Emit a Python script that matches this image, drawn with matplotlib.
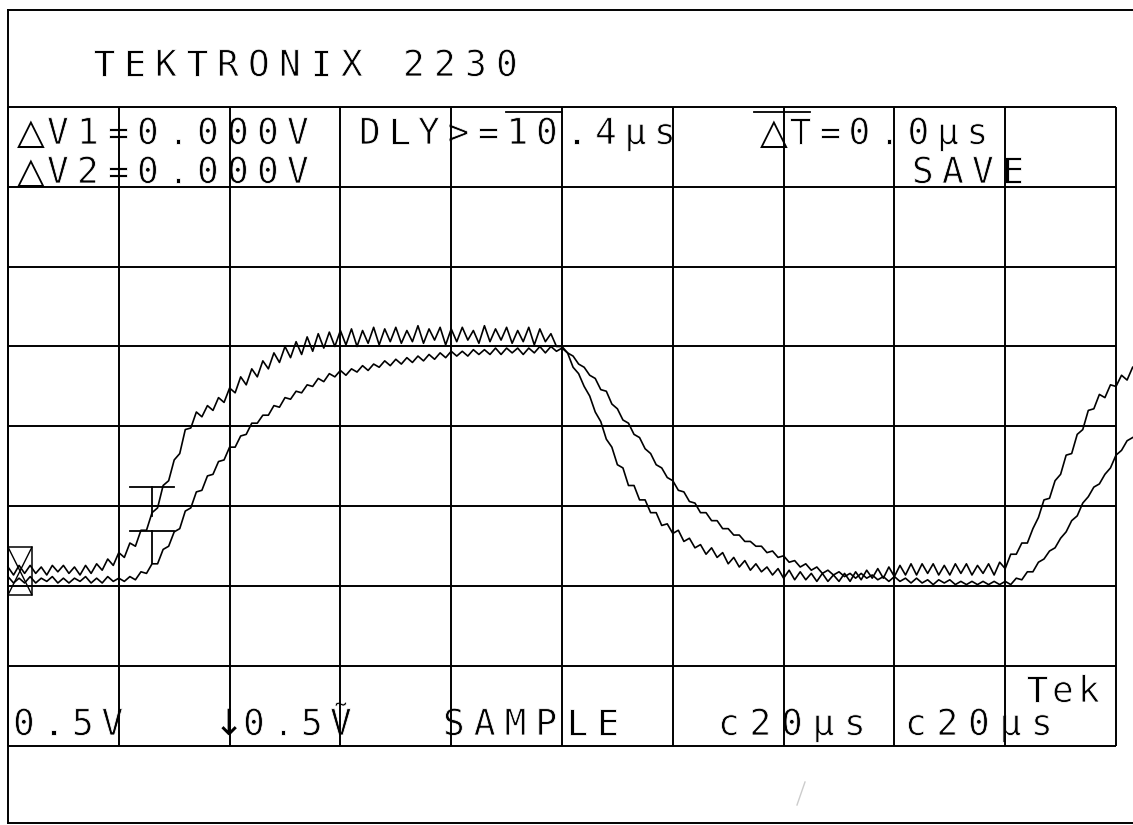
import matplotlib
matplotlib.use("Agg")
import matplotlib.pyplot as plt
import matplotlib.patheffects as pe
import numpy as np

# Tektronix 2230 screen dump: 20 us/div, 0.5 V/div on both channels
time_us = np.arange(0, 204)  # one sample per microsecond

# channel 1 (faster edges, more ripple), volts
ch1_v = [
    0.02, -0.03, 0.03, -0.02, 0.03, -0.02, 0.02, -0.03, 0.03, -0.01,
    0.03, -0.02, 0.02, -0.03, 0.03, -0.02, 0.04, 0.00, 0.07, 0.03,
    0.11, 0.08, 0.17, 0.15, 0.25, 0.25, 0.36, 0.39, 0.53, 0.56,
    0.69, 0.73, 0.88, 0.89, 0.99, 0.96, 1.03, 1.00, 1.08, 1.05,
    1.14, 1.11, 1.21, 1.16, 1.26, 1.21, 1.31, 1.26, 1.36, 1.30,
    1.40, 1.33, 1.43, 1.35, 1.46, 1.37, 1.48, 1.39, 1.49, 1.40,
    1.50, 1.41, 1.51, 1.40, 1.50, 1.42, 1.52, 1.41, 1.51, 1.43,
    1.52, 1.42, 1.50, 1.43, 1.53, 1.42, 1.51, 1.44, 1.52, 1.41,
    1.51, 1.43, 1.52, 1.44, 1.50, 1.42, 1.53, 1.43, 1.51, 1.44,
    1.52, 1.42, 1.50, 1.43, 1.52, 1.41, 1.51, 1.43, 1.48, 1.40,
    1.40, 1.36, 1.27, 1.23, 1.15, 1.09, 0.99, 0.93, 0.82, 0.77,
    0.66, 0.64, 0.53, 0.53, 0.44, 0.44, 0.36, 0.36, 0.28, 0.29,
    0.23, 0.25, 0.18, 0.20, 0.14, 0.16, 0.10, 0.14, 0.08, 0.11,
    0.04, 0.08, 0.02, 0.06, 0.00, 0.04, -0.01, 0.02, -0.03, 0.01,
    -0.05, 0.00, -0.06, -0.01, -0.06, -0.02, -0.07, -0.02, -0.07, -0.03,
    -0.07, -0.02, -0.07, -0.01, -0.06, 0.00, -0.05, 0.01, -0.05, 0.02,
    -0.04, 0.03, -0.03, 0.04, -0.03, 0.04, -0.02, 0.04, -0.03, 0.03,
    -0.03, 0.04, -0.02, 0.04, -0.03, 0.03, -0.02, 0.04, -0.03, 0.05,
    0.01, 0.10, 0.10, 0.17, 0.17, 0.26, 0.33, 0.44, 0.45, 0.56,
    0.60, 0.72, 0.73, 0.85, 0.88, 1.00, 1.01, 1.10, 1.08, 1.16,
    1.15, 1.22, 1.19, 1.27,
]

# channel 2 (slower edges), volts
ch2_v = [
    -0.04, -0.08, -0.05, -0.08, -0.04, -0.08, -0.05, -0.07, -0.04, -0.08,
    -0.05, -0.08, -0.05, -0.07, -0.04, -0.08, -0.05, -0.08, -0.04, -0.07,
    -0.05, -0.07, -0.04, -0.06, -0.01, -0.02, 0.04, 0.04, 0.13, 0.15,
    0.24, 0.26, 0.37, 0.39, 0.49, 0.50, 0.59, 0.60, 0.68, 0.69,
    0.77, 0.77, 0.84, 0.85, 0.92, 0.92, 0.97, 0.97, 1.03, 1.02,
    1.08, 1.07, 1.12, 1.11, 1.16, 1.15, 1.20, 1.18, 1.23, 1.21,
    1.25, 1.22, 1.26, 1.24, 1.28, 1.25, 1.29, 1.27, 1.31, 1.28,
    1.32, 1.29, 1.33, 1.30, 1.34, 1.31, 1.35, 1.32, 1.36, 1.33,
    1.37, 1.34, 1.37, 1.34, 1.38, 1.35, 1.38, 1.35, 1.39, 1.35,
    1.39, 1.36, 1.39, 1.35, 1.39, 1.36, 1.40, 1.36, 1.40, 1.37,
    1.39, 1.36, 1.34, 1.29, 1.27, 1.22, 1.20, 1.13, 1.12, 1.04,
    1.01, 0.94, 0.92, 0.85, 0.83, 0.76, 0.73, 0.66, 0.64, 0.58,
    0.56, 0.50, 0.49, 0.43, 0.42, 0.36, 0.36, 0.31, 0.31, 0.26,
    0.26, 0.22, 0.22, 0.18, 0.18, 0.15, 0.15, 0.11, 0.12, 0.08,
    0.09, 0.05, 0.06, 0.02, 0.04, 0.00, 0.02, -0.02, 0.00, -0.03,
    -0.01, -0.04, -0.02, -0.05, -0.02, -0.05, -0.03, -0.06, -0.04, -0.07,
    -0.04, -0.07, -0.05, -0.08, -0.05, -0.08, -0.06, -0.09, -0.06, -0.08,
    -0.06, -0.09, -0.07, -0.09, -0.07, -0.09, -0.07, -0.09, -0.07, -0.09,
    -0.07, -0.09, -0.05, -0.06, -0.01, -0.01, 0.05, 0.07, 0.12, 0.14,
    0.20, 0.24, 0.31, 0.34, 0.42, 0.46, 0.52, 0.54, 0.60, 0.64,
    0.72, 0.75, 0.81, 0.83,
]

# graticule: 10 x 8 divisions
grid_t = np.arange(0, 201, 20)
grid_v = [-1.1, -0.6, -0.1, 0.4, 0.9, 1.4, 1.9, 2.4, 2.9]

# readout text: (text, left x px, baseline y px, pitch px)
readouts = [
    ("TEKTRONIX 2230", 93, 76, 31),
    ("△V1=0.000V", 17, 144, 30),
    ("△V2=0.000V", 17, 183, 30),
    ("DLY>=10.4μs", 359, 144, 29.5),
    ("△T=0.0μs", 760, 144, 29.5),
    ("SAVE", 912, 183, 30),
    ("0.5V", 13, 735, 29.5),
    ("↓0.5Ṽ", 214, 735, 29),
    ("SAMPLE", 443, 735, 30.8),
    ("c20μs", 718, 735, 31.5),
    ("c20μs", 905, 735, 31.5),
    ("Tek", 1026, 702, 26),
]

# page geometry in pixels
W, H = 1133, 825
X0, PX_US = 8, 5.54        # t = 0 at x = 8 px, 110.8 px per division
Y0, PX_V = 570.2, 159.8    # 0 V at y = 570 px, 79.9 px per division
FS = 26
# thin white edge stroke brings the glyphs towards the plotter's pen width
THIN = [pe.Stroke(linewidth=0.6, foreground="white")]


def put(ax, s, x, y, pitch):
    # the scope font is monospaced with wide spacing, place glyph by glyph
    for i, ch in enumerate(s):
        if ch == " ":
            continue
        if ch in "△↓":
            ax.text(x + i * pitch, y, ch, fontsize=FS, ha="left", va="baseline",
                    family="DejaVu Sans", color="black")
        else:
            ax.text(x + i * pitch, y, ch, fontsize=FS, ha="left", va="baseline",
                    family=["DejaVu Sans Mono", "DejaVu Sans"], color="black",
                    path_effects=THIN)


fig = plt.figure(figsize=(W / 100, H / 100), dpi=100)
fig.patch.set_facecolor("white")

# bottom layer in pixel coords: frame and readouts
lab = fig.add_axes([0, 0, 1, 1])
lab.set_xlim(0, W)
lab.set_ylim(H, 0)
lab.axis("off")

for txt, x, y, p in readouts:
    put(lab, txt, x, y, p)

lab.plot([8, 8], [10, 823], color="black", lw=1.4)
lab.plot([8, W], [10, 10], color="black", lw=1.4)
lab.plot([8, W], [823, 823], color="black", lw=1.4)

# overbars on the delay and delta-T readouts
lab.plot([506, 562], [112, 112], color="black", lw=1.3)
lab.plot([754, 810], [112, 112], color="black", lw=1.3)

# ground reference marker
lab.plot([8, 32, 32, 8, 8], [547, 547, 595, 595, 547], color="black", lw=1.1)
lab.plot([8, 32], [547, 595], color="black", lw=1.0)
lab.plot([8, 32], [595, 547], color="black", lw=1.0)

# voltage cursors
lab.plot([130, 174], [487, 487], color="black", lw=1.3)
lab.plot([152, 152], [487, 516], color="black", lw=1.3)
lab.plot([130, 174], [531, 531], color="black", lw=1.3)
lab.plot([152, 152], [531, 563], color="black", lw=1.3)

# faint scan mark
lab.plot([805, 797], [782, 805], color="#cccccc", lw=1.0)

# top layer in data units: graticule and traces
ax = fig.add_axes([0, 0, 1, 1])
ax.set_xlim(-X0 / PX_US, (W - X0) / PX_US)
ax.set_ylim((Y0 - H) / PX_V, Y0 / PX_V)
ax.axis("off")
ax.patch.set_alpha(0)

ax.vlines(grid_t, grid_v[0], grid_v[-1], color="black", lw=1.4)
ax.hlines(grid_v, grid_t[0], grid_t[-1], color="black", lw=1.4)

ax.plot(time_us, ch1_v, color="black", lw=1.2)
ax.plot(time_us, ch2_v, color="black", lw=1.2)

fig.savefig("out.png", dpi=100, facecolor="white")
